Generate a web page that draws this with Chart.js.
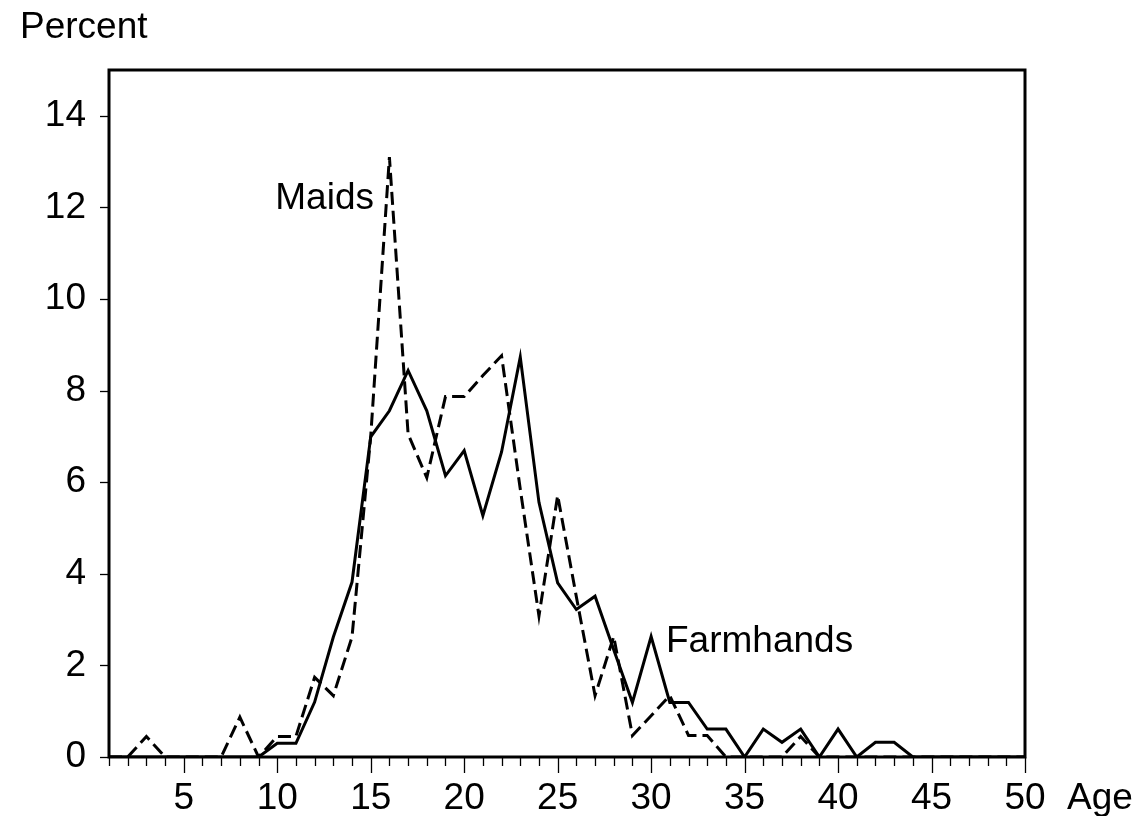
<!DOCTYPE html>
<html>
<head>
<meta charset="utf-8">
<script src="https://cdn.jsdelivr.net/npm/chart.js@4.4.1/dist/chart.umd.min.js"></script>
<style>
  html, body { margin: 0; padding: 0; background: #ffffff; }
  #wrap { width: 1147px; height: 816px; position: relative; }
</style>
</head>
<body>
<div id="wrap"><canvas id="c"></canvas></div>
<script>
const ages = [1,2,3,4,5,6,7,8,9,10,11,12,13,14,15,16,17,18,19,20,21,22,23,24,25,26,27,28,29,30,31,32,33,34,35,36,37,38,39,40,41,42,43,44,45,46,47,48,49,50];
const farmhands = [0,0,0,0,0,0,0,0,0,0.3,0.3,1.2,2.62,3.82,6.99,7.56,8.44,7.56,6.14,6.69,5.27,6.66,8.73,5.56,3.8,3.22,3.51,2.34,1.19,2.63,1.19,1.19,0.61,0.61,0,0.61,0.32,0.61,0,0.61,0,0.32,0.32,0,0,0,0,0,0,0];
const maids = [0,0,0.45,0,0,0,0,0.87,0,0.45,0.45,1.74,1.34,2.62,7.0,13.1,7.05,6.1,7.87,7.87,8.33,8.76,5.85,3.08,5.71,3.5,1.34,2.63,0.47,0.9,1.34,0.47,0.47,0,0,0,0,0.45,0,0,0,0,0,0,0,0,0,0,0,0];
const xTickLabels = [5,10,15,20,25,30,35,40,45,50];
const yTickLabels = [0,2,4,6,8,10,12,14];

const FONT = '"Liberation Sans", Arial, Helvetica, sans-serif';
const FSIZE = 37;

const decor = {
  id: 'decor',
  afterDraw(chart) {
    const ctx = chart.ctx;
    const a = chart.chartArea;
    const xs = chart.scales.x, ys = chart.scales.y;
    ctx.save();
    ctx.strokeStyle = '#000';
    ctx.lineWidth = 1.3;
    ages.forEach(v => {
      const px = Math.round(xs.getPixelForValue(v)) + 0.5;
      const len = (xTickLabels.indexOf(v) >= 0) ? 16 : 9;
      ctx.beginPath();
      ctx.moveTo(px, a.bottom);
      ctx.lineTo(px, a.bottom + len);
      ctx.stroke();
    });
    yTickLabels.forEach(v => {
      const py = Math.round(ys.getPixelForValue(v)) + 0.5;
      ctx.beginPath();
      ctx.moveTo(a.left - 9, py);
      ctx.lineTo(a.left, py);
      ctx.stroke();
    });
    ctx.lineWidth = 3;
    ctx.strokeRect(a.left, a.top, a.right - a.left, a.bottom - a.top);
    ctx.fillStyle = '#000';
    ctx.font = FSIZE + 'px ' + FONT;
    ctx.textBaseline = 'alphabetic';
    ctx.textAlign = 'left';
    ctx.fillText('Percent', 20, 38);
    ctx.fillText('Age', 1067, 809);
    ctx.textAlign = 'right';
    ctx.fillText('Maids', 374, 209);
    ctx.textAlign = 'left';
    ctx.fillText('Farmhands', 666, 652);
    ctx.restore();
  }
};

new Chart(document.getElementById('c'), {
  type: 'line',
  data: {
    datasets: [
      {
        label: 'Farmhands',
        data: ages.map((a, i) => ({ x: a, y: farmhands[i] })),
        borderColor: '#000',
        borderWidth: 3,
        pointRadius: 0,
        tension: 0,
        fill: false
      },
      {
        label: 'Maids',
        data: ages.map((a, i) => ({ x: a, y: maids[i] })),
        borderColor: '#000',
        borderWidth: 3,
        borderDash: [13, 6],
        pointRadius: 0,
        tension: 0,
        fill: false
      }
    ]
  },
  options: {
    responsive: true,
    maintainAspectRatio: false,
    animation: false,
    events: [],
    layout: { padding: { left: 0, top: 70, right: 122, bottom: 0 } },
    plugins: { legend: { display: false }, tooltip: { enabled: false } },
    scales: {
      x: {
        type: 'linear',
        min: 1, max: 50,
        grid: { display: false, drawTicks: false },
        border: { display: false },
        ticks: {
          stepSize: 1,
          autoSkip: false,
          maxRotation: 0,
          padding: 20,
          color: '#000',
          font: { size: FSIZE, family: FONT },
          callback: v => (xTickLabels.indexOf(v) >= 0 ? String(v) : '')
        },
        afterFit: s => { s.height = 59; }
      },
      y: {
        type: 'linear',
        min: 0, max: 15,
        grid: { display: false, drawTicks: false },
        border: { display: false },
        ticks: {
          stepSize: 2,
          includeBounds: false,
          padding: 23,
          color: '#000',
          font: { size: FSIZE, family: FONT },
          callback: v => (yTickLabels.indexOf(v) >= 0 ? String(v) : '')
        },
        afterFit: s => { s.width = 109; }
      }
    }
  },
  plugins: [decor]
});
</script>
</body>
</html>
